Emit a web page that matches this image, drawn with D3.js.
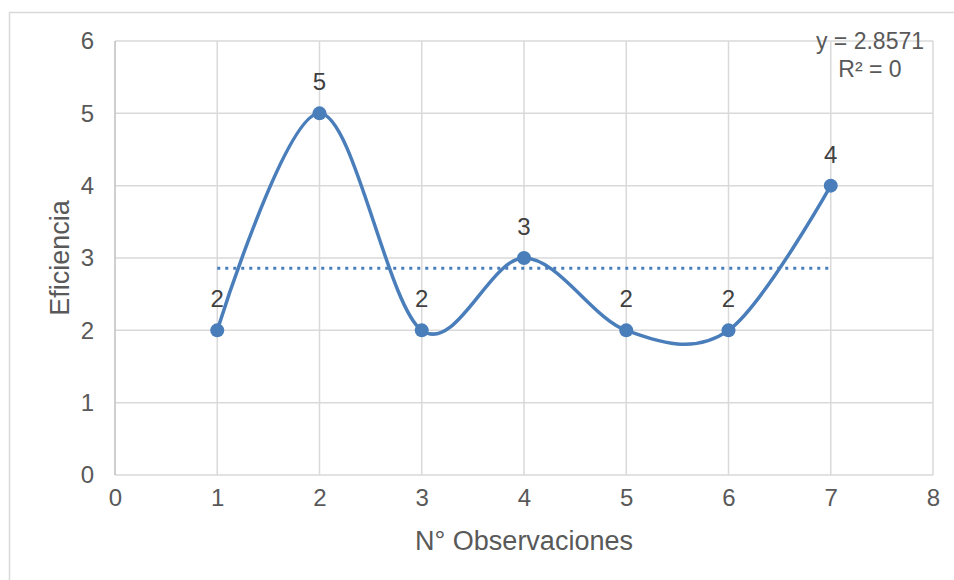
<!DOCTYPE html>
<html lang="es">
<head>
	<meta charset="utf-8">
	<title>Eficiencia</title>
	<script src="https://cdn.jsdelivr.net/npm/d3@7"></script>
	<style>
		body { margin: 0; background: #fff; }
		text { font-family: "Liberation Sans", Arial, sans-serif; fill: #595959; }
	</style>
</head>
<body>
<script>
	// data
	var observaciones = [1, 2, 3, 4, 5, 6, 7];
	var eficiencia = [2, 5, 2, 3, 2, 2, 4];
	var trendValue = 2.8571;
	var trendLabel = ["y = 2.8571", "R\u00b2 = 0"];
	var xTicks = [0, 1, 2, 3, 4, 5, 6, 7, 8];
	var yTicks = [0, 1, 2, 3, 4, 5, 6];

	var w = 954, h = 580;
	var plotLeft = 115, plotRight = 933, plotTop = 41, plotBottom = 475;
	var blue = "#4a7ebb";

	var svg = d3.select("body").append("svg")
		.attr("width", w)
		.attr("height", h);

	// chart border
	svg.append("rect")
		.attr("x", 9.5).attr("y", 12.5)
		.attr("width", 1000).attr("height", 600)
		.attr("fill", "none")
		.attr("stroke", "#d9d9d9")
		.attr("stroke-width", 1.5);

	var x = d3.scaleLinear().domain([0, 8]).range([plotLeft, plotRight]);
	var y = d3.scaleLinear().domain([0, 6]).range([plotBottom, plotTop]);

	// gridlines
	svg.append("g").selectAll("line")
		.data(yTicks)
		.enter().append("line")
		.attr("x1", plotLeft).attr("x2", plotRight)
		.attr("y1", function(d){ return y(d); })
		.attr("y2", function(d){ return y(d); })
		.attr("stroke", "#d9d9d9")
		.attr("stroke-width", 1.5);

	svg.append("g").selectAll("line")
		.data(xTicks)
		.enter().append("line")
		.attr("x1", function(d){ return x(d); })
		.attr("x2", function(d){ return x(d); })
		.attr("y1", plotTop).attr("y2", plotBottom)
		.attr("stroke", function(d){ return d === 0 ? "#bfbfbf" : "#d9d9d9"; })
		.attr("stroke-width", 1.5);

	// tick labels via d3 axes, no lines
	var xAxis = svg.append("g")
		.attr("transform", "translate(0," + plotBottom + ")")
		.call(d3.axisBottom(x).tickValues(xTicks).tickFormat(d3.format("d")).tickSize(0).tickPadding(14));
	var yAxis = svg.append("g")
		.attr("transform", "translate(" + plotLeft + ",0)")
		.call(d3.axisLeft(y).tickValues(yTicks).tickFormat(d3.format("d")).tickSize(0).tickPadding(21));
	[xAxis, yAxis].forEach(function(g){
		g.attr("font-size", null).attr("font-family", null);
		g.select(".domain").remove();
		g.selectAll("text")
			.style("font-size", "24px")
			.style("fill", "#595959");
	});

	// axis titles
	svg.append("text")
		.attr("x", 524)
		.attr("y", 550)
		.attr("text-anchor", "middle")
		.style("font-size", "27px")
		.text("N\u00b0 Observaciones");

	svg.append("text")
		.attr("transform", "translate(69," + ((plotTop + plotBottom) / 2) + ") rotate(-90)")
		.attr("text-anchor", "middle")
		.style("font-size", "27px")
		.text("Eficiencia");

	// trend line
	svg.append("line")
		.attr("x1", x(d3.min(observaciones)))
		.attr("x2", x(d3.max(observaciones)))
		.attr("y1", y(trendValue))
		.attr("y2", y(trendValue))
		.attr("stroke", blue)
		.attr("stroke-width", 3)
		.attr("stroke-dasharray", "3 5");

	// smoothed series
	var pts = observaciones.map(function(d, i){ return [d, eficiencia[i]]; });
	var line = d3.line()
		.x(function(d){ return x(d[0]); })
		.y(function(d){ return y(d[1]); })
		.curve(d3.curveCardinal.tension(0));

	svg.append("path")
		.datum(pts)
		.attr("d", line)
		.attr("fill", "none")
		.attr("stroke", blue)
		.attr("stroke-width", 3.5)
		.attr("stroke-linecap", "round");

	svg.selectAll("circle")
		.data(pts)
		.enter().append("circle")
		.attr("cx", function(d){ return x(d[0]); })
		.attr("cy", function(d){ return y(d[1]); })
		.attr("r", 7)
		.attr("fill", blue);

	// data labels
	svg.append("g").selectAll("text")
		.data(pts)
		.enter().append("text")
		.attr("x", function(d){ return x(d[0]); })
		.attr("y", function(d){ return y(d[1]) - 23; })
		.attr("text-anchor", "middle")
		.style("font-size", "24px")
		.style("fill", "#404040")
		.text(function(d){ return d[1]; });

	// trendline equation
	svg.append("g").selectAll("text")
		.data(trendLabel)
		.enter().append("text")
		.attr("x", 870)
		.attr("y", function(d, i){ return 49 + i * 28; })
		.attr("text-anchor", "middle")
		.style("font-size", "23px")
		.text(function(d){ return d; });
</script>
</body>
</html>
